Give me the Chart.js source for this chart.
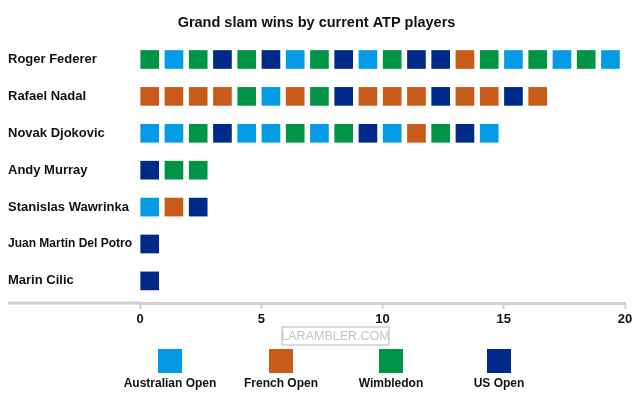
<!DOCTYPE html>
<html>
<head>
<meta charset="utf-8">
<script src="https://cdn.jsdelivr.net/npm/chart.js@4/dist/chart.umd.min.js"></script>
<style>
  html, body { margin: 0; padding: 0; background: #ffffff; }
  #wrap { width: 640px; height: 396px; position: relative; }
</style>
</head>
<body>
<div id="wrap"><canvas id="c" width="640" height="396"></canvas></div>
<script>
// ---- data ----
const players = ['Roger Federer', 'Rafael Nadal', 'Novak Djokovic', 'Andy Murray',
                 'Stanislas Wawrinka', 'Juan Martin Del Potro', 'Marin Cilic'];
const tournaments = ['Australian Open', 'French Open', 'Wimbledon', 'US Open'];
const tournamentCodes = ['A', 'F', 'W', 'U'];
const tournamentColors = ['#039be5', '#c85a1a', '#009446', '#002a87'];
// chronological order of each player's slam titles
const federerWins   = ['W','A','W','U','W','U','A','W','U','A','W','U','U','F','W','A','W','A','W','A'];
const nadalWins     = ['F','F','F','F','W','A','F','W','U','F','F','F','U','F','F','U','F'];
const djokovicWins  = ['A','A','W','U','A','A','W','A','W','U','A','F','W','U','A'];
const murrayWins    = ['U','W','W'];
const wawrinkaWins  = ['A','F','U'];
const delPotroWins  = ['U'];
const cilicWins     = ['U'];
const winSequences = [federerWins, nadalWins, djokovicWins, murrayWins, wawrinkaWins, delPotroWins, cilicWins];
const xTicks = [0, 5, 10, 15, 20];

// ---- build datasets ----
const datasets = tournaments.map((name, t) => {
  const pts = [];
  winSequences.forEach((seq, p) => {
    seq.forEach((code, i) => {
      if (code === tournamentCodes[t]) pts.push({ x: i + 0.4, y: p });
    });
  });
  return {
    label: name,
    data: pts,
    backgroundColor: tournamentColors[t],
    borderColor: tournamentColors[t],
    borderWidth: 0,
    pointStyle: 'rect',
    pointRadius: 13.2,
    pointHoverRadius: 13.2
  };
});

const FONT = '"Liberation Sans", Arial, Helvetica, sans-serif';

const extras = {
  id: 'extras',
  afterDraw(chart) {
    const ctx = chart.ctx;
    const ca = chart.chartArea;
    ctx.save();
    // extend axis line to the left
    ctx.strokeStyle = '#d0d0d0';
    ctx.lineWidth = 3;
    ctx.beginPath();
    ctx.moveTo(8, ca.bottom);
    ctx.lineTo(ca.left, ca.bottom);
    ctx.stroke();

    // watermark
    ctx.strokeStyle = '#dadada';
    ctx.lineWidth = 2;
    ctx.strokeRect(282, 327, 107, 18);
    ctx.fillStyle = '#c4c4c4';
    ctx.font = '12.5px ' + FONT;
    ctx.textAlign = 'center';
    ctx.textBaseline = 'middle';
    ctx.fillText('LARAMBLER.COM', 335.5, 336.5);

    // legend
    const centers = [170, 281, 391, 499];
    tournaments.forEach((name, t) => {
      const cx = centers[t];
      ctx.fillStyle = tournamentColors[t];
      ctx.fillRect(cx - 12, 349, 24, 24);
      ctx.fillStyle = '#111111';
      ctx.font = 'bold 12px ' + FONT;
      ctx.textAlign = 'center';
      ctx.textBaseline = 'middle';
      ctx.fillText(name, cx, 384);
    });
    ctx.restore();
  }
};

new Chart(document.getElementById('c'), {
  type: 'scatter',
  data: { datasets },
  plugins: [extras],
  options: {
    responsive: false,
    animation: false,
    events: [],
    layout: { padding: { left: 8, right: 15, top: 0, bottom: 0 } },
    plugins: {
      legend: { display: false },
      tooltip: { enabled: false },
      title: {
        display: true,
        text: 'Grand slam wins by current ATP players',
        color: '#111111',
        font: { family: FONT, size: 14.5, weight: 'bold', lineHeight: 1.2 },
        padding: { top: 14, bottom: 8.6 }
      }
    },
    scales: {
      x: {
        type: 'linear',
        min: 0,
        max: 20,
        afterBuildTicks(scale) { scale.ticks = xTicks.map(v => ({ value: v })); },
        afterFit(scale) { scale.height = 93; },
        grid: {
          display: true,
          drawOnChartArea: false,
          drawTicks: true,
          tickLength: 6,
          tickColor: '#d0d0d0',
          tickWidth: 2
        },
        border: { display: true, color: '#d0d0d0', width: 3 },
        ticks: {
          color: '#111111',
          padding: 3,
          font: { family: FONT, size: 13, weight: 'bold' },
          maxRotation: 0
        }
      },
      y: {
        type: 'linear',
        reverse: true,
        min: -0.528,
        max: 6.599,
        afterBuildTicks(scale) { scale.ticks = players.map((_, i) => ({ value: i })); },
        afterFit(scale) { scale.width = 132; },
        grid: { display: false, drawTicks: false },
        border: { display: false },
        ticks: {
          crossAlign: 'far',
          padding: 0,
          color: '#111111',
          callback: (v) => players[v],
          font: (ctx) => ({
            family: FONT,
            size: (ctx.tick && players[ctx.tick.value] && players[ctx.tick.value].length > 19) ? 12 : 13,
            weight: 'bold'
          })
        }
      }
    }
  }
});
</script>
</body>
</html>
